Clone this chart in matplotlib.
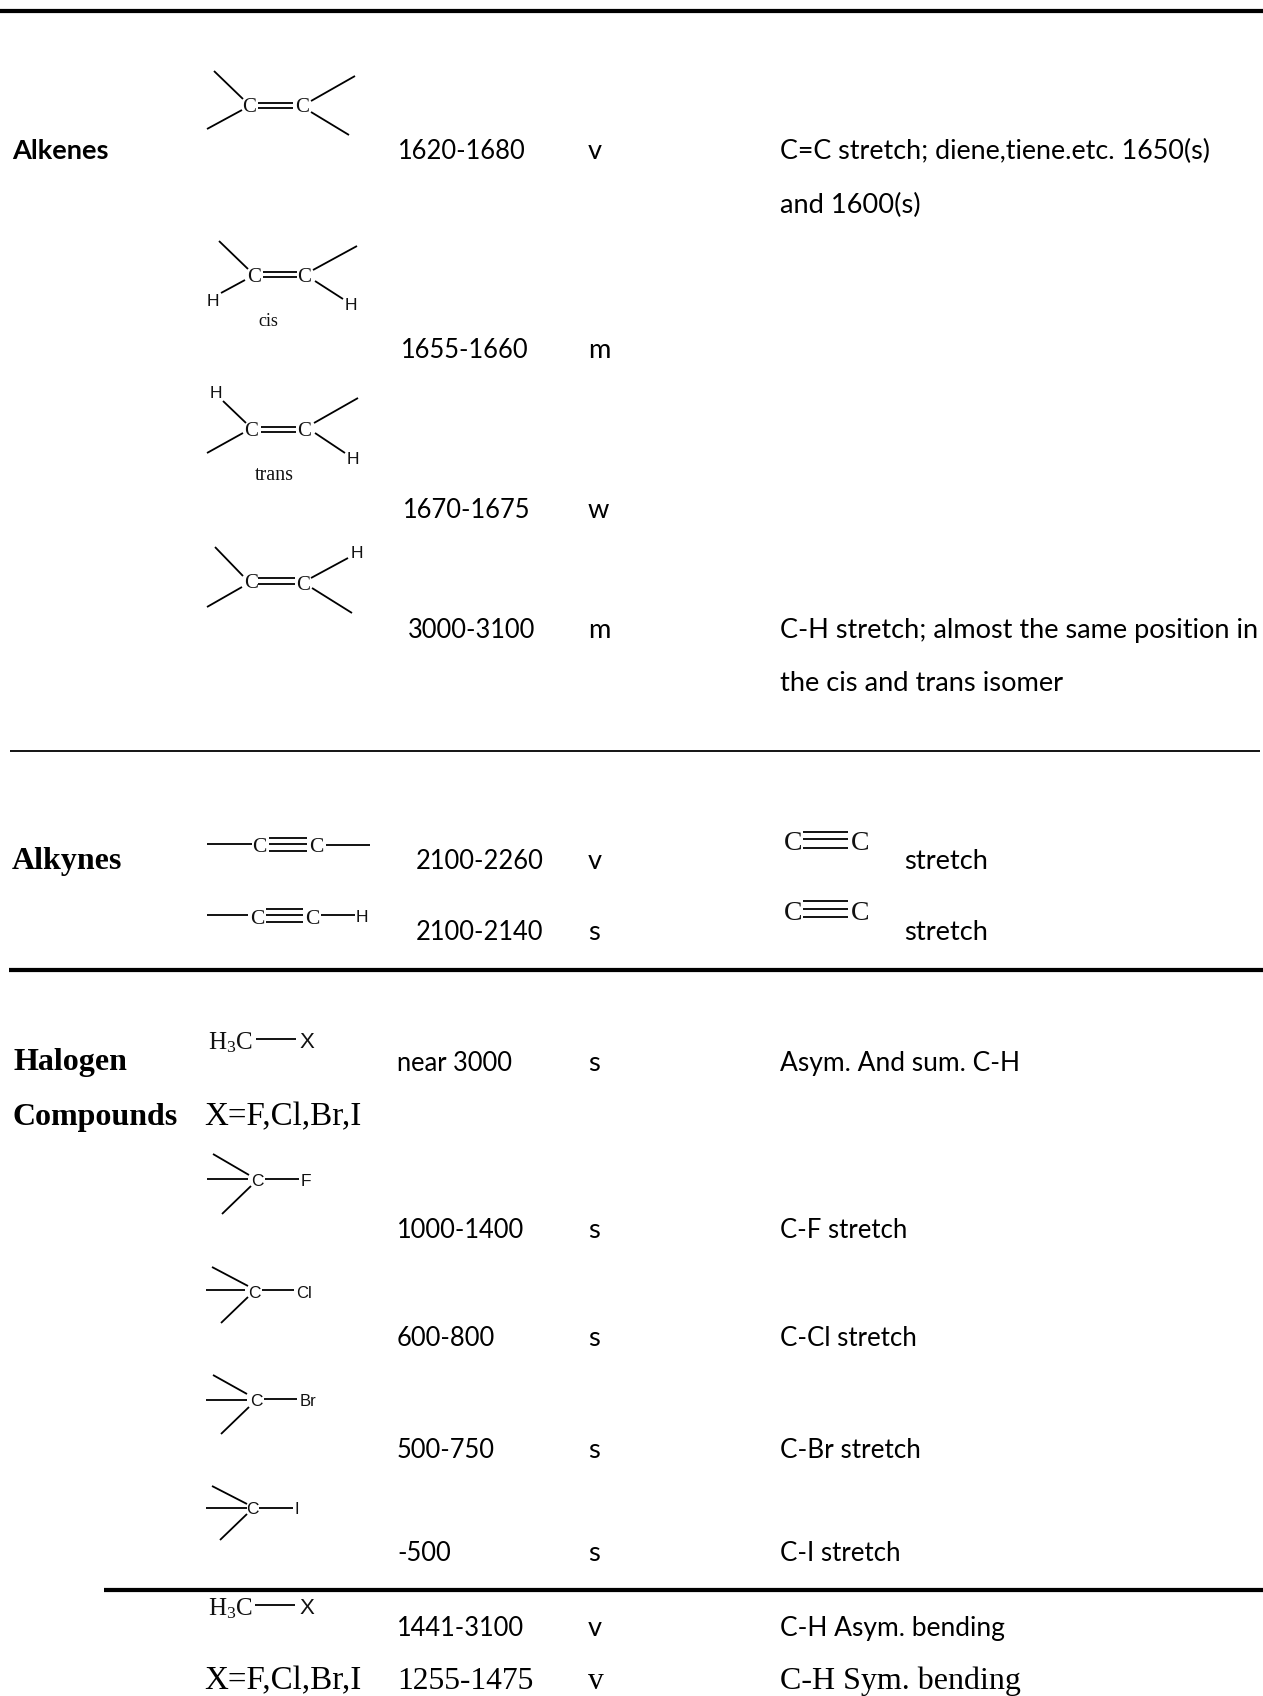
import matplotlib
matplotlib.use("Agg")
import matplotlib.pyplot as plt

plt.rcParams['mathtext.fontset'] = 'custom'
plt.rcParams['mathtext.rm'] = 'Liberation Serif'

W, H = 1263, 1696
SANS, SERIF, ARIAL = 'Lato', 'Liberation Serif', 'Liberation Sans'
NUM = 18.4
BODY = 19.6
BIG = 23

# ---- table contents (text, x px, baseline px)
wavenumbers = [("1620-1680", 398), ("1655-1660", 401), ("1670-1675", 403), ("3000-3100", 408),
               ("2100-2260", 416), ("2100-2140", 416), ("near 3000", 397), ("1000-1400", 397),
               ("600-800", 397), ("500-750", 397), ("-500", 397), ("1441-3100", 397)]
intensities = ["v", "m", "w", "m", "v", "s", "s", "s", "s", "s", "s", "v"]
row_y = [159, 358, 518, 638, 869, 940, 1071, 1238, 1346, 1458, 1561, 1636]
notes = ["C=C stretch; diene,tiene.etc. 1650(s)", "", "", "C-H stretch; almost the same position in",
         "stretch", "stretch", "Asym. And sum. C-H", "C-F stretch", "C-Cl stretch", "C-Br stretch",
         "C-I stretch", "C-H Asym. bending"]
note_x = [780, 780, 780, 780, 904, 904, 780, 780, 780, 780, 780, 780]
note_size = [19.4, 19.6, 19.6, 19.5, 19.6, 19.6, 19.0, 18.5, 18.6, 18.8, 18.6, 19.0]
extra_notes = [("and 1600(s)", 780, 213), ("the cis and trans isomer", 780, 691)]
rules = [(0, 1263, 11, 4.2), (10, 1260, 751, 1.8), (9, 1263, 970, 4.2), (104, 1263, 1590, 4.2)]

# ---- structure drawings: bonds (x0,y0,x1,y1) in px and atom labels (text,x,y,family,size)
bonds = [
    (214, 71, 243, 99), (207, 129, 242, 110), (258, 103, 293, 103), (258, 108, 293, 108),
    (311, 101, 355, 76), (311, 112, 349, 135),
    (219, 241, 248, 269), (221, 293, 245, 280), (263, 272, 297, 272), (263, 277, 297, 277),
    (313, 270, 357, 246), (315, 281, 343, 299),
    (223, 401, 246, 423), (207, 453, 243, 433), (261, 427, 296, 427), (261, 432, 296, 432),
    (314, 423, 358, 398), (315, 433, 345, 453),
    (215, 547, 243, 576), (207, 607, 242, 587), (258, 578, 295, 578), (258, 584, 295, 584),
    (311, 578, 348, 558), (312, 588, 352, 613),
    (207, 844, 252, 844), (269, 838, 307, 838), (269, 844, 307, 844), (269, 851, 307, 851),
    (326, 845, 370, 845),
    (207, 915, 248, 915), (266, 909, 303, 909), (266, 915, 303, 915), (266, 922, 303, 922),
    (321, 915, 355, 915),
    (803, 832, 848, 832), (803, 839, 848, 839), (803, 848, 848, 848),
    (803, 901, 848, 901), (803, 909, 848, 909), (803, 917, 848, 917),
    (256, 1039, 296, 1039),
    (213, 1154, 249, 1175), (207, 1179, 248, 1179), (222, 1214, 251, 1186), (265, 1179, 299, 1179),
    (212, 1267, 248, 1286), (206, 1290, 245, 1290), (221, 1323, 248, 1297), (262, 1290, 294, 1290),
    (213, 1375, 247, 1394), (206, 1400, 247, 1400), (221, 1434, 249, 1407), (264, 1399, 297, 1399),
    (212, 1486, 247, 1504), (206, 1508, 247, 1508), (220, 1540, 247, 1514), (259, 1508, 293, 1508),
    (255, 1605, 295, 1605),
]
atoms = [
    ("C", 249, 108, SERIF, 15), ("C", 302, 108, SERIF, 15),
    ("C", 254, 278, SERIF, 15), ("C", 304, 278, SERIF, 15), ("H", 213, 301, ARIAL, 12.5),
    ("H", 351, 306, ARIAL, 12.5), ("cis", 268, 321, SERIF, 13),
    ("H", 216, 394, ARIAL, 12.5), ("C", 251, 431, SERIF, 15), ("C", 304, 432, SERIF, 15),
    ("H", 353, 460, ARIAL, 12.5), ("trans", 274, 476, SERIF, 14.5),
    ("C", 251, 584, SERIF, 15), ("C", 303, 585, SERIF, 15), ("H", 357, 554, ARIAL, 12.5),
    ("C", 259, 848, SERIF, 15.5), ("C", 316, 848, SERIF, 15.5),
    ("C", 257, 919, SERIF, 15.5), ("C", 312, 919, SERIF, 15.5), ("H", 362, 918, ARIAL, 12.5),
    ("C", 793, 844, SERIF, 20), ("C", 860, 844, SERIF, 20),
    ("C", 793, 914, SERIF, 20), ("C", 860, 914, SERIF, 20),
    (r"$\mathrm{H_3C}$", 230, 1043, SERIF, 18), ("X", 307, 1042, ARIAL, 16),
    ("C", 257, 1182, ARIAL, 12.5), ("F", 306, 1182, ARIAL, 12.5),
    ("C", 254, 1293, ARIAL, 12.5), ("Cl", 304, 1293, ARIAL, 12),
    ("C", 256, 1402, ARIAL, 12.5), ("Br", 308, 1402, ARIAL, 12),
    ("C", 252, 1510, ARIAL, 12.5), ("I", 297, 1510, ARIAL, 12),
    (r"$\mathrm{H_3C}$", 230, 1609, SERIF, 18), ("X", 307, 1609, ARIAL, 16),
]
serif_texts = [("Alkynes", 12, 869, True, BIG), ("Halogen", 13, 1070, True, BIG),
               ("Compounds", 13, 1125, True, BIG),
               ("X=F,Cl,Br,I", 204, 1125, False, 23.8), ("X=F,Cl,Br,I", 204, 1689, False, 23.8),
               ("1255-1475", 397, 1689, False, 22.7), ("v", 588, 1689, False, 22.7),
               ("C-H Sym. bending", 780, 1689, False, BIG)]

fig = plt.figure(figsize=(W / 100, H / 100), dpi=100, facecolor='white')
ax = fig.add_axes([0, 0, 1, 1])
ax.set_xlim(0, W)
ax.set_ylim(H, 0)
ax.axis('off')

for x0, x1, y, lw in rules:
    ax.plot([x0, x1], [y, y], color='black', lw=lw * 0.72, solid_capstyle='butt')
for x0, y0, x1, y1 in bonds:
    ax.plot([x0, x1], [y0, y1], color='black', lw=1.3, solid_capstyle='butt')
for t, x, y, fam, size in atoms:
    ax.text(x, y, t, family=fam, fontsize=size, ha='center', va='center', color='#111111')

ax.text(12, 159, "Alkenes", family=SANS, fontweight='bold', fontsize=BODY, va='baseline', color='black')
for (label, x), y, inten, note, nx, ns in zip(wavenumbers, row_y, intensities, notes, note_x, note_size):
    ax.text(x, y, label, family=SANS, fontsize=NUM, va='baseline', color='black')
    ax.text(588, y, inten, family=SANS, fontsize=BODY, va='baseline', color='black')
    if note:
        ax.text(nx, y, note, family=SANS, fontsize=ns, va='baseline', color='black')
for t, x, y in extra_notes:
    ax.text(x, y, t, family=SANS, fontsize=BODY, va='baseline', color='black')
for t, x, y, bold, size in serif_texts:
    ax.text(x, y, t, family=SERIF, fontsize=size, va='baseline', color='black',
            fontweight='bold' if bold else 'normal')

fig.savefig('out.png', dpi=100, facecolor='white')
